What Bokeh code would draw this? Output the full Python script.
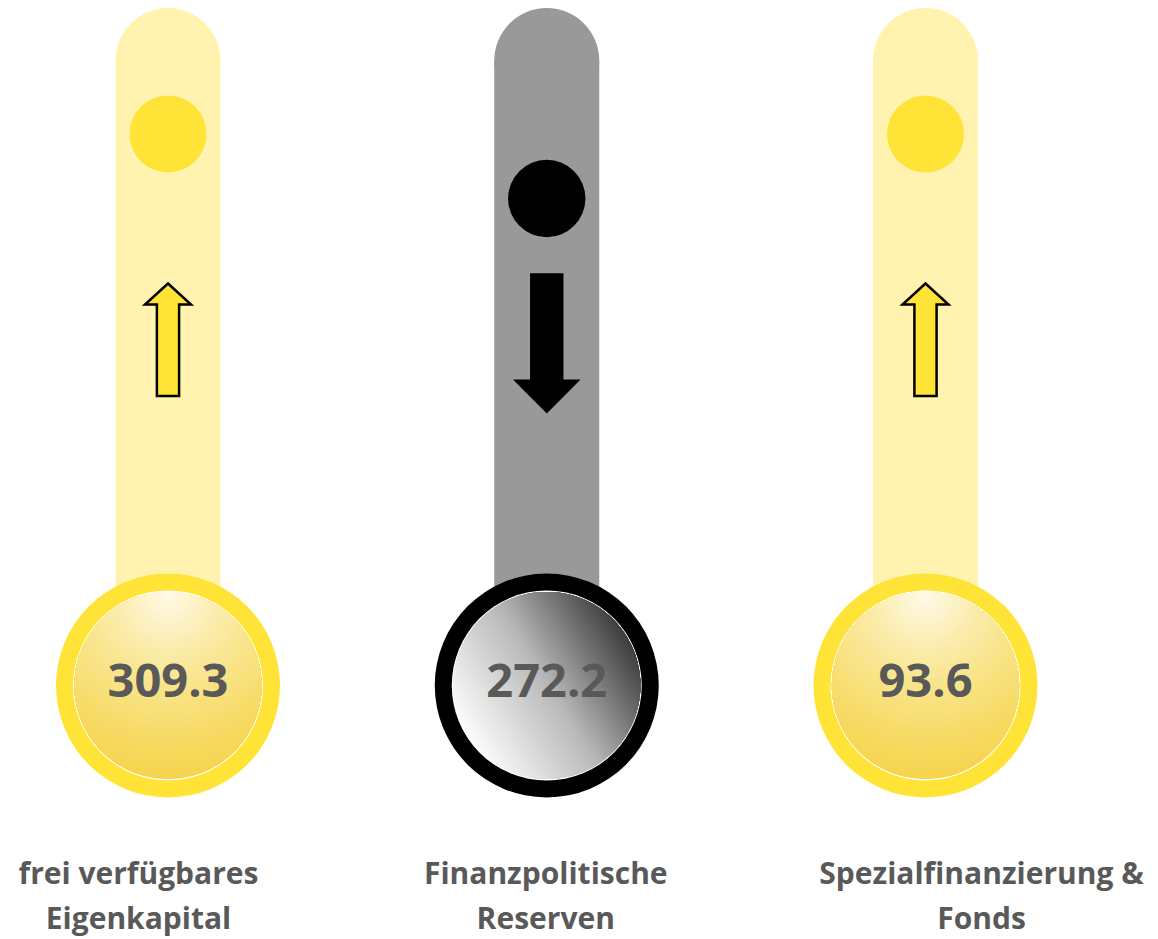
import numpy as np
from bokeh.plotting import figure
from bokeh.models import Range1d
from bokeh.core.properties import value
from bokeh.embed import file_html
from bokeh.resources import INLINE

# ---------------- data ----------------
categories = ["frei verfügbares\nEigenkapital", "Finanzpolitische\nReserven", "Spezialfinanzierung &\nFonds"]
values = [309.3, 272.2, 93.6]
trend = ["up", "down", "up"]

# ---------------- layout / style ----------------
W, H = 1158, 939
X0, SPACING = 167.5, 378.75           # column centres on the page
LABEL_DX = [-29.5, -1.0, 56.0]        # label boxes are offset from the columns
LABEL_BASE = [871.5, 917.0]
VALUE_SIZE, LABEL_SIZE = 47, 30
TUBE_TOP, TUBE_W = 60.0, 105.0
BIG_Y, RING_R, WHITE_R, INNER_R = 685.0, 112.0, 95.0, 93.6
TEXT_COL = "#595959"
FONT = value("Open Sans")

STYLE = {
    "up":   dict(tube="#FFF3AF", ring="#FFE336", dot="#FFE336", dot_y=133.5, dot_r=38.5),
    "down": dict(tube="#999999", ring="#000000", dot="#000000", dot_y=198.0, dot_r=38.7),
}


def hex2rgb(h):
    h = h.lstrip("#")
    return np.array([int(h[i:i + 2], 16) for i in (0, 2, 4)], dtype=float)


def interp_color(t, stops):
    pos = [s[0] for s in stops]
    cols = [hex2rgb(s[1]) for s in stops]
    rgb = [np.interp(t, pos, [c[k] for c in cols]) for k in range(3)]
    return "#%02x%02x%02x" % tuple(int(round(v)) for v in rgb)


def lens(cx0, cy0, r0, fx, fy, r, n=240):
    """Polygon of the intersection of disk (cx0, cy0, r0) and disk (fx, fy, r)."""
    th = np.linspace(0, 2 * np.pi, n, endpoint=False)
    ax, ay = fx + r * np.cos(th), fy + r * np.sin(th)
    keep_a = np.hypot(ax - cx0, ay - cy0) <= r0 + 1e-6
    bx, by = cx0 + r0 * np.cos(th), cy0 + r0 * np.sin(th)
    keep_b = np.hypot(bx - fx, by - fy) <= r + 1e-6
    xs = np.concatenate([ax[keep_a], bx[keep_b]])
    ys = np.concatenate([ay[keep_a], by[keep_b]])
    order = np.argsort(np.arctan2(ys - fy, xs - fx))
    return list(xs[order]), list(ys[order])


# radial gradient (distance from focal point at top of the disc)
YELLOW_STOPS = [(0.0, "#FFFAEA"), (0.08, "#FEF6D8"), (0.27, "#FBEDB0"), (0.50, "#F9E48A"),
                (0.79, "#F7DA64"), (1.0, "#F5D44C")]
GREY_STOPS = [(0.0, "#FBFBFB"), (0.5, "#B8B8B8"), (1.0, "#3C3C3C")]

p = figure(width=W, height=H, x_range=Range1d(0, W), y_range=Range1d(H, 0),
           output_backend="svg", toolbar_location=None, x_axis_type=None, y_axis_type=None,
           min_border=0, min_border_left=0, min_border_right=0, min_border_top=0, min_border_bottom=0)
p.outline_line_color = None
p.background_fill_color = "white"
p.border_fill_color = "white"
p.xgrid.visible = False
p.ygrid.visible = False

cx_list = [X0 + i * SPACING for i in range(len(categories))]

for i, (lab, val, tr) in enumerate(zip(categories, values, trend)):
    cx = cx_list[i]
    st = STYLE[tr]
    # tube
    p.rect(x=[cx], y=[(TUBE_TOP + BIG_Y) / 2], width=[TUBE_W], height=[BIG_Y - TUBE_TOP],
           fill_color=st["tube"], line_color=None)
    p.circle(x=[cx], y=[TUBE_TOP], radius=TUBE_W / 2, fill_color=st["tube"], line_color=None)
    # dot
    p.circle(x=[cx], y=[st["dot_y"]], radius=st["dot_r"], fill_color=st["dot"], line_color=None)
    # arrow
    if tr == "up":
        ax = [0, 23, 11.1, 11.1, -11.1, -11.1, -23]
        ay = [283.0, 304.0, 304.0, 395.5, 395.5, 304.0, 304.0]
        p.patch([cx + a for a in ax], ay, fill_color="#FFE336", line_color="black",
                line_width=2.5, line_join="miter")
    else:
        ax = [-16.7, 16.7, 16.7, 33.8, 0, -33.8, -16.7]
        ay = [272.7, 272.7, 379.0, 379.0, 413.0, 379.0, 379.0]
        p.patch([cx + a for a in ax], ay, fill_color="black", line_color=None)
    # ring + white border
    p.circle(x=[cx], y=[BIG_Y], radius=RING_R, fill_color=st["ring"], line_color=None)
    p.circle(x=[cx], y=[BIG_Y], radius=WHITE_R, fill_color="white", line_color=None)
    # gradient fill
    xs_list, ys_list, cols = [], [], []
    if tr == "up":
        fx, fy = cx, 596.0
        rmax = (BIG_Y + INNER_R) - fy + 1.0
        for r in np.linspace(rmax, 1.5, 70):
            xs, ys = lens(cx, BIG_Y, INNER_R, fx, fy, r)
            xs_list.append(xs)
            ys_list.append(ys)
            cols.append(interp_color(r / rmax, YELLOW_STOPS))
    else:
        theta_d = np.deg2rad(-32.0)   # direction towards the dark side (screen coords, y down)
        for s in np.linspace(-0.999, 0.999, 70):
            alpha = np.arccos(s)
            phi = np.linspace(-alpha, alpha, 80)
            xs_list.append(list(cx + INNER_R * np.cos(theta_d + phi)))
            ys_list.append(list(BIG_Y + INNER_R * np.sin(theta_d + phi)))
            cols.append(interp_color((s + 1) / 2, GREY_STOPS))
    p.patches(xs_list, ys_list, fill_color=cols, line_color=None)
    # value
    p.text(x=[cx], y=[BIG_Y - 5], text=[f"{val:.1f}"], text_font=FONT, text_font_style="bold",
           text_font_size=f"{VALUE_SIZE}px", text_color=TEXT_COL, text_align="center",
           text_baseline="alphabetic")
    # category label (two lines)
    for k, ln in enumerate(lab.split("\n")):
        p.text(x=[cx + LABEL_DX[i]], y=[LABEL_BASE[k]], text=[ln], text_font=FONT,
               text_font_style="bold", text_font_size=f"{LABEL_SIZE}px", text_color=TEXT_COL,
               text_align="center", text_baseline="alphabetic")

open("out.html", "w").write(file_html(p, INLINE))
